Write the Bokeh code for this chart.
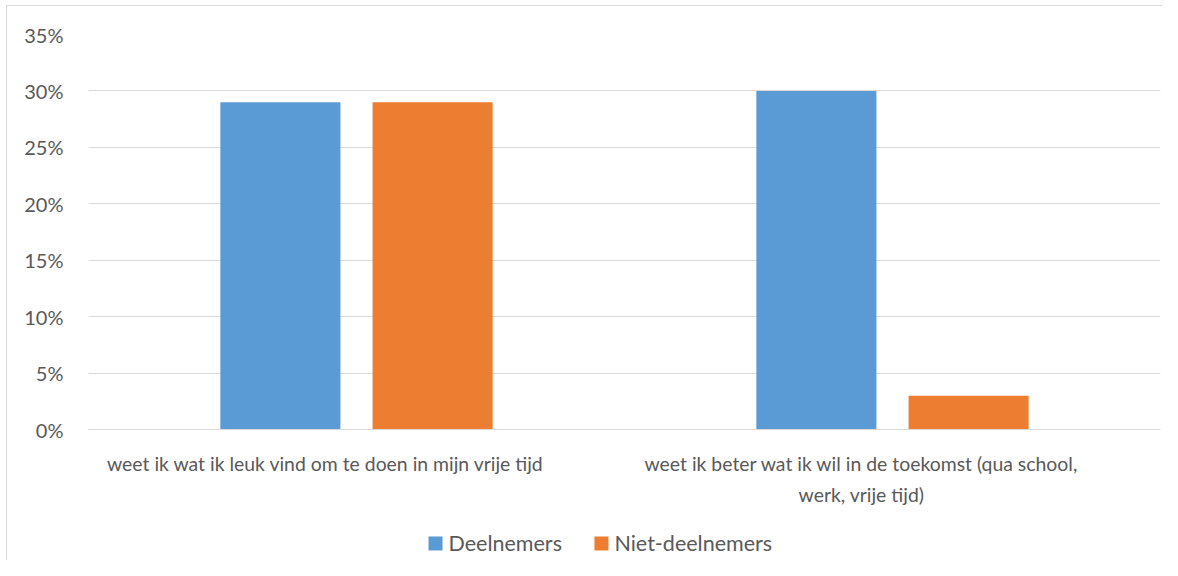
from bokeh.plotting import figure
from bokeh.models import ColumnDataSource, FactorRange, FixedTicker, NumeralTickFormatter
from bokeh.core.properties import value
from bokeh.transform import dodge
from bokeh.embed import file_html
from bokeh.resources import INLINE

categories = ["weet ik wat ik leuk vind om te doen in mijn vrije tijd",
              "weet ik beter wat ik wil in de toekomst (qua school, werk, vrije tijd)"]
category_labels = ["weet ik wat ik leuk vind om te doen in mijn vrije tijd",
                   "weet ik beter wat ik wil in de toekomst (qua school,\nwerk, vrije tijd)"]
series = ["Deelnemers", "Niet-deelnemers"]
colors = ["#5b9bd5", "#ed7d31"]
deelnemers = [0.29, 0.30]
niet_deelnemers = [0.29, 0.03]
y_ticks = [0, 0.05, 0.10, 0.15, 0.20, 0.25, 0.30, 0.35]

FONT = "Lato"
TXT = "#595959"
GRID = "#d9d9d9"

src = ColumnDataSource(dict(cat=categories, d=deelnemers, n=niet_deelnemers,
                            lab=category_labels, y0=[0] * len(categories)))

p = figure(x_range=FactorRange(factors=categories), y_range=(0, 0.35),
           frame_width=1072, frame_height=395,
           min_border_left=81, min_border_right=2, min_border_top=28, min_border_bottom=131,
           output_backend="svg", toolbar_location=None, tools="")
p.styles = {"margin-left": "6px", "margin-top": "5px",
            "border-left": "1px solid #d9d9d9", "border-top": "1px solid #d9d9d9"}
p.outline_line_color = None

r1 = p.vbar(x=dodge("cat", -0.142, range=p.x_range), top="d", width=0.224, source=src,
            fill_color=colors[0], line_color=None)
r2 = p.vbar(x=dodge("cat", 0.142, range=p.x_range), top="n", width=0.224, source=src,
            fill_color=colors[1], line_color=None)

lbl = p.text(x="cat", y="y0", text="lab", source=src, y_offset=22, x_offset=-31,
             text_align="center", text_baseline="top", text_line_height=1.35,
             text_font=value(FONT), text_font_size="19.4px", text_color=TXT)
lbl.level = "overlay"

# legend below the chart (drawn as overlay so it is not clipped to the frame)
legend_x = [0.6474, 0.957]
legend_y = -0.101
for name, col, lx in zip(series, colors, legend_x):
    sq = p.rect(x=[lx], y=[legend_y], width=14, height=14, width_units="screen",
                height_units="screen", fill_color=col, line_color=None)
    sq.level = "overlay"
    tx = p.text(x=[lx], y=[legend_y], text=[name], x_offset=13, text_align="left",
                text_baseline="middle", text_font=value(FONT), text_font_size="21.5px",
                text_color=TXT)
    tx.level = "overlay"

p.yaxis.ticker = FixedTicker(ticks=y_ticks)
p.yaxis.formatter = NumeralTickFormatter(format="0%")
p.yaxis.axis_line_color = None
p.yaxis.major_tick_line_color = None
p.yaxis.minor_tick_line_color = None
p.yaxis.major_label_standoff = 19
p.yaxis.major_label_text_font = FONT
p.yaxis.major_label_text_font_size = "20px"
p.yaxis.major_label_text_color = TXT

p.xaxis.axis_line_color = GRID
p.xaxis.axis_line_width = 1
p.xaxis.major_tick_line_color = None
p.xaxis.minor_tick_line_color = None
p.xaxis.major_label_text_font_size = "1px"
p.xaxis.major_label_text_alpha = 0

p.xgrid.grid_line_color = None
p.ygrid.grid_line_color = GRID
p.ygrid.grid_line_width = 1

open("out.html", "w").write(file_html(p, INLINE))
